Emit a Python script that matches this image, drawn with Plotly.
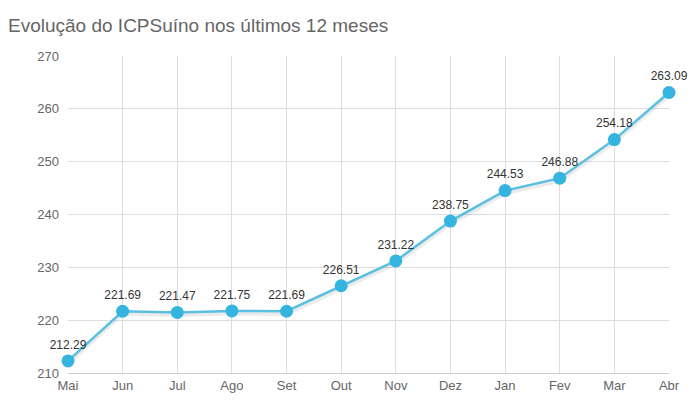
import plotly.graph_objects as go

meses = ["Mai", "Jun", "Jul", "Ago", "Set", "Out", "Nov", "Dez", "Jan", "Fev", "Mar", "Abr"]
valores = [212.29, 221.69, 221.47, 221.75, 221.69, 226.51, 231.22, 238.75, 244.53, 246.88, 254.18, 263.09]

fig = go.Figure()
# soft shadow under the line
fig.add_trace(go.Scatter(x=meses, y=[v - 0.5 for v in valores], mode="lines",
                         line=dict(color="rgba(0,0,0,0.08)", width=4),
                         hoverinfo="skip", showlegend=False))
fig.add_trace(go.Scatter(
    x=meses, y=valores, mode="lines+markers+text",
    line=dict(color="#5bbfe0", width=2.5),
    marker=dict(color="#35b4e0", size=13),
    text=[f"{v:.2f}" for v in valores], textposition="top center",
    textfont=dict(family="Arial, Liberation Sans", size=12, color="#333"),
    cliponaxis=False, showlegend=False))

fig.update_layout(
    width=700, height=420,
    margin=dict(l=60, r=39, t=48, b=55),
    paper_bgcolor="white", plot_bgcolor="white",
    title=dict(text="Evolução do ICPSuíno nos últimos 12 meses", x=0.0, y=0.975,
               xanchor="left", yanchor="top",
               font=dict(family="Arial, Liberation Sans", size=19, color="#666")),
    font=dict(family="Arial, Liberation Sans", size=13, color="#666"),
)
fig.update_xaxes(showgrid=True, gridcolor="#ddd", showline=True, linecolor="#ccc",
                 range=[0, 11], ticks="", zeroline=False)
fig.update_yaxes(range=[210, 270], dtick=10, showgrid=True, gridcolor="#ddd",
                 zeroline=False, ticks="", ticklabelstandoff=8)

fig.write_html("out.html")
